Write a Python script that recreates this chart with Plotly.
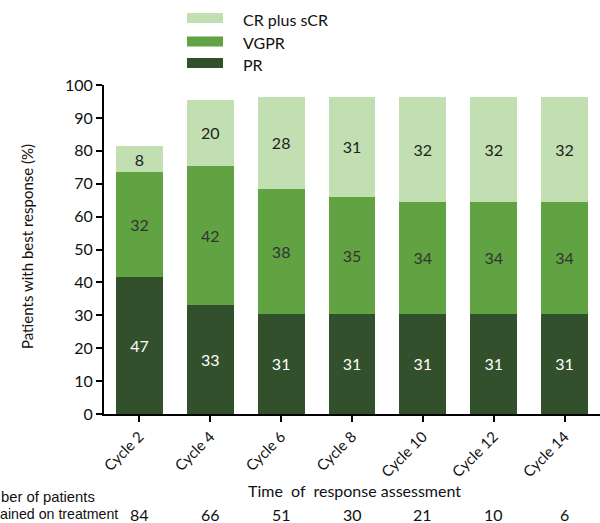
import plotly.graph_objects as go

categories = ["Cycle 2", "Cycle 4", "Cycle 6", "Cycle 8", "Cycle 10", "Cycle 12", "Cycle 14"]
pr_values = [41.5, 33, 30.5, 30.5, 30.5, 30.5, 30.5]
vgpr_values = [32, 42.5, 38, 35.5, 34, 34, 34]
cr_values = [8, 20, 28, 30.5, 32, 32, 32]
pr_labels = ["47", "33", "31", "31", "31", "31", "31"]
vgpr_labels = ["32", "42", "38", "35", "34", "34", "34"]
cr_labels = ["8", "20", "28", "31", "32", "32", "32"]
patients_remaining = ["84", "66", "51", "30", "21", "10", "6"]
row_label_1 = "ber of patients"
row_label_2 = "ained on treatment"

C_CR = "#c1dfb1"
C_VGPR = "#61a242"
C_PR = "#32502c"

W, H = 600, 523
L, R, T, B = 104, 0, 85, 109
PW = W - L - R
PH = H - T - B


def px(x):
    return (x - L) / PW


def py(y):
    return (H - B - y) / PH


LABEL_FONT = "Lato, 'Open Sans', sans-serif"
ARIAL = "'Liberation Sans', Arial, sans-serif"

fig = go.Figure()
for name, vals, labs, col, tcol in [
    ("PR", pr_values, pr_labels, C_PR, "white"),
    ("VGPR", vgpr_values, vgpr_labels, C_VGPR, "#333333"),
    ("CR plus sCR", cr_values, cr_labels, C_CR, "#222222"),
]:
    fig.add_trace(go.Bar(
        x=categories, y=vals, name=name, marker=dict(color=col, line=dict(width=0)),
        text=labs, textposition="inside", insidetextanchor="middle", textangle=0,
        constraintext="none", textfont=dict(family=LABEL_FONT, size=16, color=tcol),
        showlegend=False, hoverinfo="skip",
    ))

fig.update_layout(
    width=W, height=H, barmode="stack", bargap=0.34,
    margin=dict(l=L, r=R, t=T, b=B, autoexpand=False),
    paper_bgcolor="white", plot_bgcolor="white",
    font=dict(family=LABEL_FONT, size=15, color="#111111"),
    xaxis=dict(
        range=[-0.5, 6.5], showline=True, linecolor="black", linewidth=2,
        ticks="outside", ticklen=6, tickwidth=2, tickcolor="black",
        tickangle=-45, tickfont=dict(family=LABEL_FONT, size=15, color="#111111"),
        showgrid=False, zeroline=False, fixedrange=True,
    ),
    yaxis=dict(
        range=[0, 100], dtick=10, showline=True, linecolor="black", linewidth=2,
        ticks="outside", ticklen=6, tickwidth=2, tickcolor="black",
        tickfont=dict(family=LABEL_FONT, size=16, color="#111111"),
        showgrid=False, zeroline=False, fixedrange=True,
    ),
)

# Legend drawn manually (wide swatches)
legend_items = [("CR plus sCR", C_CR, 18), ("VGPR", C_VGPR, 41.5), ("PR", C_PR, 63)]
for text, col, yc in legend_items:
    fig.add_shape(type="rect", xref="paper", yref="paper",
                  x0=px(187), x1=px(223), y0=py(yc + 5), y1=py(yc - 5),
                  fillcolor=col, line=dict(width=0))
    fig.add_annotation(text=text, xref="paper", yref="paper", x=px(241), y=py(yc + 1),
                       xanchor="left", yanchor="middle", showarrow=False,
                       font=dict(family=LABEL_FONT, size=16, color="#111111"))

# Axis titles
fig.add_annotation(text="Patients with best response (%)", xref="paper", yref="paper",
                   x=px(27), y=py(247), textangle=-90, showarrow=False,
                   xanchor="center", yanchor="middle",
                   font=dict(family=LABEL_FONT, size=15, color="#111111"))
fig.add_annotation(text="Time  of  response assessment", xref="paper", yref="paper",
                   x=px(354), y=py(490), showarrow=False, xanchor="center", yanchor="middle",
                   font=dict(family=LABEL_FONT, size=16, color="#111111"))

# Number of patients row
fig.add_annotation(text=row_label_1, xref="paper", yref="paper",
                   x=px(0), y=py(497), showarrow=False, xanchor="left", yanchor="middle",
                   xshift=-1, font=dict(family=ARIAL, size=14.8, color="#111111"))
fig.add_annotation(text=row_label_2, xref="paper", yref="paper",
                   x=px(0), y=py(514), showarrow=False, xanchor="left", yanchor="middle",
                   xshift=-2, font=dict(family=ARIAL, size=14.2, color="#111111"))
for cat, n in zip(categories, patients_remaining):
    fig.add_annotation(text=n, xref="x", yref="paper", x=cat, y=py(514),
                       showarrow=False, xanchor="center", yanchor="middle",
                       font=dict(family=LABEL_FONT, size=16, color="#111111"))

fig.write_html("out.html", config={"displayModeBar": False})
